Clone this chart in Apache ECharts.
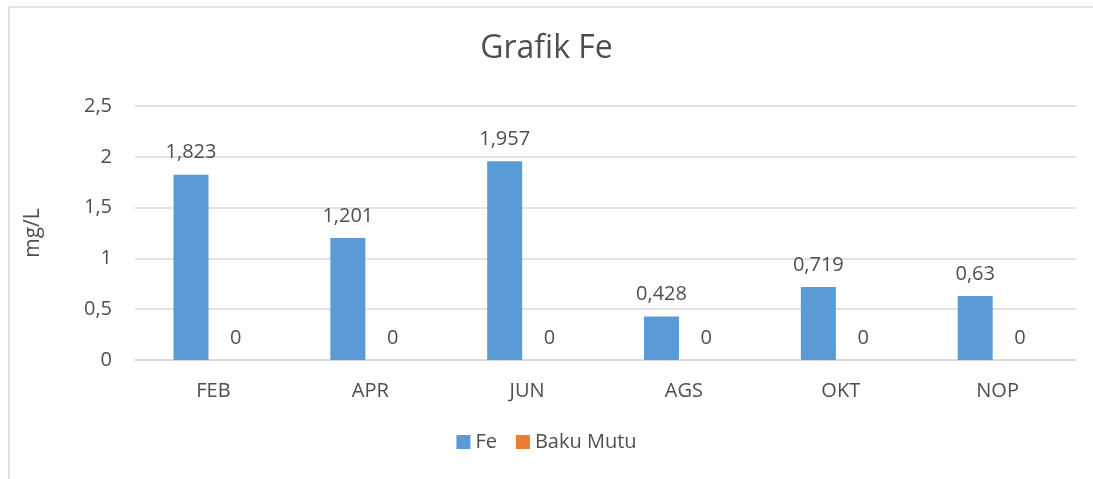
<!DOCTYPE html>
<html>
<head>
<meta charset="utf-8">
<script src="https://cdn.jsdelivr.net/npm/echarts@6/dist/echarts.min.js"></script>
<style>
  html, body { margin: 0; padding: 0; background: #fff; }
  #chart { width: 1093px; height: 479px; }
</style>
</head>
<body>
<div id="chart"></div>
<script>
const months = ['FEB', 'APR', 'JUN', 'AGS', 'OKT', 'NOP'];
const feValues = [1.823, 1.201, 1.957, 0.428, 0.719, 0.63];
const bakuMutuValues = [0, 0, 0, 0, 0, 0];
const yTicks = { min: 0, max: 2.5, interval: 0.5 };

const fmt = v => String(v).replace('.', ',');
const textColor = '#4f4f4f';
const font = '"Open Sans", sans-serif';

const myChart = echarts.init(document.getElementById('chart'));
myChart.setOption({
  animation: false,
  textStyle: { fontFamily: font },
  graphic: [{
    type: 'rect',
    shape: { x: 9, y: 7, width: 1200, height: 600 },
    style: { fill: 'none', stroke: '#d9d9d9', lineWidth: 1.5 },
    silent: true
  }],
  title: {
    text: 'Grafik Fe',
    left: 'center',
    top: 28,
    textStyle: { fontSize: 32, fontWeight: 'normal', color: textColor, fontFamily: font }
  },
  legend: {
    data: ['Fe', 'Baku Mutu'],
    bottom: 22,
    left: 'center',
    itemWidth: 14,
    itemHeight: 14,
    itemGap: 19,
    icon: 'rect',
    textStyle: { fontSize: 20, color: textColor, fontFamily: font }
  },
  grid: { left: 135, right: 17, top: 106, bottom: 119, containLabel: false },
  xAxis: {
    type: 'category',
    data: months,
    axisLine: { lineStyle: { color: '#d9d9d9', width: 1.5 } },
    axisTick: { show: false },
    axisLabel: { fontSize: 20, color: textColor, margin: 21, fontFamily: font }
  },
  yAxis: {
    type: 'value',
    min: yTicks.min,
    max: yTicks.max,
    interval: yTicks.interval,
    name: 'mg/L',
    nameLocation: 'middle',
    nameGap: 91,
    nameRotate: 90,
    nameTextStyle: { fontSize: 21, color: textColor, fontFamily: font },
    axisLine: { show: false },
    axisTick: { show: false },
    splitLine: { lineStyle: { color: '#d9d9d9', width: 1.5 } },
    axisLabel: { fontSize: 20, color: textColor, margin: 23, formatter: v => fmt(v), fontFamily: font }
  },
  series: [
    {
      name: 'Fe',
      type: 'bar',
      data: feValues,
      barWidth: 35,
      barGap: '28%',
      itemStyle: { color: '#5b9bd5' },
      label: { show: true, position: 'top', distance: 12, fontSize: 20, color: textColor, formatter: p => fmt(p.value), fontFamily: font }
    },
    {
      name: 'Baku Mutu',
      type: 'bar',
      data: bakuMutuValues,
      barWidth: 35,
      barGap: '28%',
      itemStyle: { color: '#ed7d31' },
      label: { show: true, position: 'top', distance: 12, fontSize: 20, color: textColor, formatter: p => fmt(p.value), fontFamily: font }
    }
  ]
});
</script>
</body>
</html>
